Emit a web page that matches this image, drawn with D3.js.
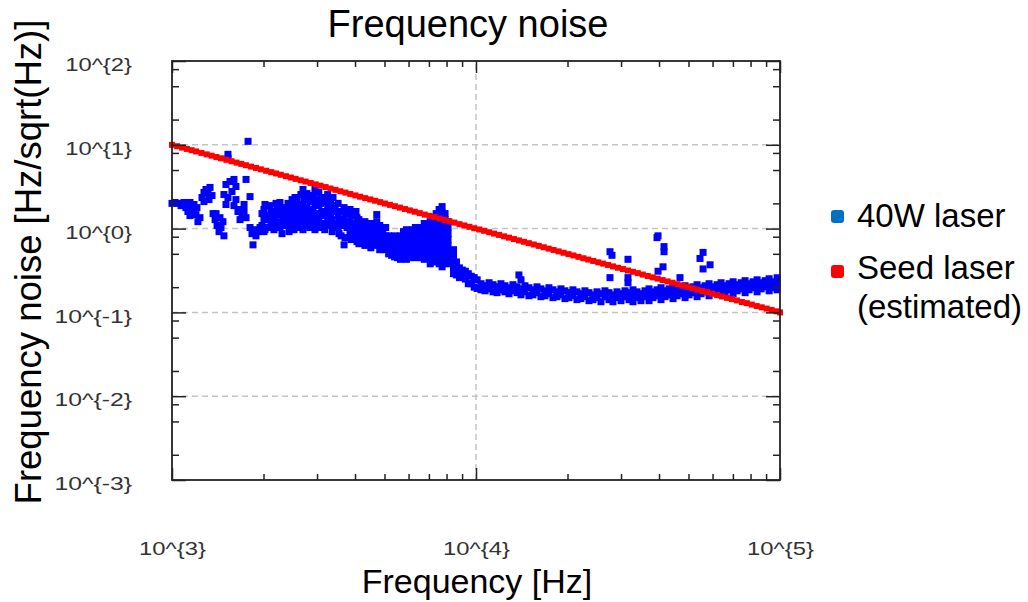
<!DOCTYPE html>
<html>
  <head>
    <meta charset="utf-8">
    <title>Frequency noise</title>
    <style>
    body { margin: 0; background: #fff; }
    text { font-family: "Liberation Sans", Arial, Helvetica, sans-serif; fill: #000; }
    .tick text { font-family: "Liberation Sans Narrow", "Liberation Sans", Arial, sans-serif; fill: #333; }
    .tick line { stroke: #222; stroke-width: 1.5px; }
    .grid line { stroke: #c4c4c4; stroke-width: 1.5px; stroke-dasharray: 6,4; }
    </style>
  </head>
  <body>
    <script src="https://d3js.org/d3.v7.min.js"></script>
    <script>

    // axis ticks
    var xMajor = [1e3, 1e4, 1e5];
    var xMinor = [2e3, 3e3, 4e3, 5e3, 6e3, 7e3, 8e3, 9e3, 2e4, 3e4, 4e4, 5e4, 6e4, 7e4, 8e4, 9e4];
    var yMajor = [1e-3, 1e-2, 1e-1, 1e0, 1e1, 1e2];
    var yMinor = [2e-3, 5e-3, 8e-3, 2e-2, 5e-2, 8e-2, 0.2, 0.5, 0.8, 2, 5, 8, 20, 50, 80];
    var xTickLabels = ["10^{3}", "10^{4}", "10^{5}"];
    var yTickLabels = ["10^{-3}", "10^{-2}", "10^{-1}", "10^{0}", "10^{1}", "10^{2}"];

    var seriesNames = ["40W laser", "Seed laser", "(estimated)"];

    // seed laser (estimated) : [frequency Hz, noise Hz/sqrt(Hz)]
    var seedLaser = [
      [1000,10],[1040,9.62],[1080,9.26],[1120,8.93],[1160,8.62],[1200,8.33],[1250,8.0],[1300,7.69],
      [1350,7.41],[1400,7.14],[1450,6.90],[1510,6.62],[1570,6.37],[1630,6.13],[1690,5.92],[1750,5.71],
      [1820,5.49],[1890,5.29],[1960,5.10],[2040,4.90],[2120,4.72],[2200,4.55],[2280,4.39],[2370,4.22],
      [2460,4.07],[2550,3.92],[2650,3.77],[2750,3.64],[2860,3.50],[2970,3.37],[3080,3.25],[3200,3.13],
      [3320,3.01],[3450,2.90],[3580,2.79],[3720,2.69],[3860,2.59],[4010,2.49],[4160,2.40],[4320,2.31],
      [4490,2.23],[4660,2.15],[4840,2.07],[5020,1.99],[5210,1.92],[5410,1.85],[5620,1.78],[5840,1.71],
      [6060,1.65],[6290,1.59],[6530,1.53],[6780,1.47],[7040,1.42],[7310,1.37],[7590,1.32],[7880,1.27],
      [8180,1.22],[8490,1.18],[8820,1.13],[9160,1.09],[9510,1.05],[9870,1.01],[10250,0.976],[10640,0.940],
      [11050,0.905],[11470,0.872],[11910,0.840],[12370,0.808],[12840,0.779],[13330,0.750],[13840,0.723],
      [14370,0.696],[14920,0.670],[15490,0.646],[16080,0.622],[16700,0.599],[17340,0.577],[18000,0.556],
      [18690,0.535],[19410,0.515],[20150,0.496],[20920,0.478],[21720,0.460],[22550,0.443],[23410,0.427],
      [24310,0.411],[25240,0.396],[26200,0.382],[27200,0.368],[28240,0.354],[29320,0.341],[30440,0.329],
      [31610,0.316],[32820,0.305],[34070,0.294],[35370,0.283],[36730,0.272],[38130,0.262],[39590,0.253],
      [41100,0.243],[42670,0.234],[44300,0.226],[46000,0.217],[47760,0.209],[49580,0.202],[51480,0.194],
      [53450,0.187],[55490,0.180],[57610,0.174],[59820,0.167],[62100,0.161],[64480,0.155],[66940,0.149],
      [69500,0.144],[72160,0.139],[74920,0.133],[77780,0.129],[80760,0.124],[83840,0.119],[87050,0.115],
      [90380,0.111],[93830,0.107],[97420,0.103],[100000,0.100]
    ];

    // 40W laser (measured) : [frequency Hz, noise Hz/sqrt(Hz)]
    var laser40W = [
      [1000,2.0],[1023,2.05],[1046,2.0],[1071,1.88],[1095,2.05],[1111,1.78],[1128,1.6],[1146,1.43],[1146,2.05],
      [1163,1.69],[1181,1.94],[1199,1.47],[1208,1.78],[1217,1.21],[1236,1.35],
      [1255,2.35],[1274,2.7],[1274,2.1],[1294,2.93],[1313,2.66],[1323,2.22],[1334,3.1],[1354,2.48],[1365,1.51],
      [1386,1.28],[1396,1.51],[1407,1.09],[1428,0.92],[1438,1.35],[1449,1.03],[1471,1.21],[1482,0.82],
      [1482,2.55],[1505,3.36],[1505,1.94],[1528,2.35],[1528,7.7],[1528,6.9],[1552,3.65],[1575,2.77],[1599,3.86],
      [1599,1.88],[1623,3.18],[1623,2.22],[1648,1.6],
      [1674,1.69],[1674,1.28],[1700,1.43],[1726,1.6],[1726,1.94],[1752,1.35],[1752,3.86],[1779,11.0],[1806,2.41],
      [1806,1.03],[1833,0.87],[1847,0.64],[1861,0.97],[1889,0.82],[1918,0.92],[1948,1.03],
      [1977,1.51],[1977,1.09],[2022,1.94],[2022,1.28],[2022,0.97],[2069,1.43],[2069,1.03],[2117,1.6],[2117,1.15],
      [2165,1.35],[2165,0.97],[2216,1.69],[2216,1.21],[2266,2.05],[2266,1.47],[2266,1.03],[2319,1.78],[2319,1.28],
      [2372,1.51],[2372,1.09],[2427,1.69],[2427,1.21],[2427,0.92],[2483,2.22],[2483,1.43],[2483,1.03],
      [2007,1.69],[2007,1.28],[2007,0.92],[2101,1.88],[2101,1.35],[2101,1.03],[2199,2.0],[2199,1.51],[2199,1.09],
      [2301,1.6],[2301,1.15],[2301,0.87],[2408,2.0],[2408,1.43],[2408,1.09],[2520,1.94],[2520,1.43],[2520,0.97],
      [2539,2.35],[2539,1.69],[2539,1.21],[2597,1.94],[2597,1.35],[2597,1.03],[2655,2.55],[2655,1.6],[2655,1.15],
      [2716,2.22],[2716,1.51],[2716,1.09],[2778,2.62],[2778,1.78],[2778,1.28],[2841,2.1],[2841,1.43],[2841,1.03],
      [2906,2.48],[2906,1.69],[2906,1.21],[2972,2.22],[2972,1.51],[2972,1.09],[3040,2.7],[3040,1.88],[3040,1.28],
      [3109,2.35],[3109,1.6],[3109,1.15],[3180,2.1],[3180,1.43],[3180,0.97],[3252,2.55],[3252,1.78],[3252,1.21],
      [3326,2.0],[3326,1.35],
      [2577,2.1],[2577,1.51],[2577,1.15],[2697,2.93],[2697,1.88],[2697,1.35],[2697,0.97],[2822,2.35],[2822,1.69],[2822,1.15],
      [2953,2.93],[2953,2.0],[2953,1.35],[2953,0.97],[3091,2.0],[3091,1.43],[3091,1.03],[3235,2.22],[3235,1.6],[3235,1.09],
      [3386,2.35],[3386,1.6],[3386,1.09],
      [3364,1.88],[3364,1.28],[3364,0.92],[3441,1.69],[3441,1.15],[3519,2.0],[3519,1.43],[3519,1.03],
      [3599,1.6],[3599,1.09],[3599,0.82],[3681,1.78],[3681,1.28],[3681,0.64],[3765,1.51],[3765,1.03],
      [3851,1.69],[3851,1.21],[3851,0.87],[3939,1.43],[3939,0.97],[4029,1.6],[4029,1.15],[4029,0.82],
      [3543,1.6],[3543,1.21],[3543,0.87],[3708,1.51],[3708,1.09],[3708,0.78],[3880,1.43],[3880,1.03],[3880,0.74],
      [4060,1.35],[4060,0.97],[4060,0.70],
      [4120,1.28],[4120,1.03],[4120,0.82],[4120,0.66],[4214,1.15],[4214,0.92],[4214,0.74],
      [4310,1.21],[4310,0.97],[4310,0.78],[4310,0.63],[4408,1.09],[4408,0.87],[4408,0.70],
      [4508,1.15],[4508,0.92],[4508,0.74],[4508,0.59],[4611,1.03],[4611,0.82],[4611,0.66],
      [4716,1.47],[4716,1.21],[4716,0.97],[4716,0.78],[4716,0.63],[4823,1.09],[4823,0.87],[4823,0.70],[4823,0.56],
      [4933,0.97],[4933,0.78],[4933,0.63],[5045,1.03],[5045,0.82],[5045,0.66],[5045,0.56],
      [5160,0.82],[5160,0.70],[5160,0.59],[5160,0.50],[5277,0.78],[5277,0.66],[5277,0.56],[5277,0.48],
      [5397,0.82],[5397,0.68],[5397,0.56],[5397,0.46],[5520,0.74],[5520,0.63],[5520,0.53],[5520,0.45],
      [5645,0.82],[5645,0.70],[5645,0.59],[5645,0.50],[5645,0.43],[5774,0.92],[5774,0.78],[5774,0.66],[5774,0.56],[5774,0.48],
      [5905,0.97],[5905,0.82],[5905,0.70],[5905,0.59],[5905,0.50],[5905,0.43],[6040,0.87],[6040,0.74],[6040,0.63],[6040,0.53],[6040,0.45],
      [6177,0.97],[6177,0.82],[6177,0.70],[6177,0.59],[6177,0.50],[6318,1.03],[6318,0.87],[6318,0.74],[6318,0.63],[6318,0.53],[6318,0.45],
      [6461,0.92],[6461,0.78],[6461,0.66],[6461,0.56],[6461,0.48],[6608,1.03],[6608,0.87],[6608,0.74],[6608,0.63],[6608,0.53],[6608,0.45],
      [6759,1.15],[6759,0.97],[6759,0.82],[6759,0.70],[6759,0.59],[6759,0.50],[6759,0.43],
      [6913,1.03],[6913,0.87],[6913,0.74],[6913,0.63],[6913,0.53],[6913,0.45],
      [7070,1.21],[7070,1.03],[7070,0.87],[7070,0.74],[7070,0.63],[7070,0.53],[7070,0.45],[7070,0.38],
      [7232,1.35],[7232,1.15],[7232,0.97],[7232,0.82],[7232,0.70],[7232,0.59],[7232,0.50],[7232,0.43],
      [7396,1.51],[7396,1.28],[7396,1.09],[7396,0.92],[7396,0.78],[7396,0.66],[7396,0.56],[7396,0.48],[7396,0.40],
      [7564,1.69],[7564,1.43],[7564,1.21],[7564,1.03],[7564,0.87],[7564,0.74],[7564,0.63],[7564,0.53],[7564,0.45],[7564,0.38],
      [7736,1.83],[7736,1.55],[7736,1.32],[7736,1.12],[7736,0.95],[7736,0.80],[7736,0.68],[7736,0.58],[7736,0.49],[7736,0.41],[7736,0.35],
      [7912,1.51],[7912,1.28],[7912,1.09],[7912,0.92],[7912,0.78],[7912,0.66],[7912,0.56],[7912,0.48],[7912,0.40],
      [8092,1.21],[8092,1.03],[8092,0.87],[8092,0.74],[8092,0.63],[8092,0.53],[8092,0.45],[8092,0.38],
      [8433,0.56],[8433,0.48],[8433,0.40],[8433,0.34],[8433,0.29],[8623,0.40],[8623,0.34],[8623,0.28],
      [8819,0.34],[8819,0.29],[8819,0.26],[9019,0.32],[9019,0.27],[9224,0.31],[9224,0.25],[9433,0.29],[9433,0.22],
      [9647,0.27],[9647,0.22],[9866,0.26],[9866,0.20],[10090,0.245],[10090,0.193],
      [10390,0.220],[10390,0.186],[10710,0.208],[10710,0.181],[11040,0.226],[11040,0.191],[11380,0.214],[11380,0.176],
      [11730,0.202],[11730,0.172],[12080,0.220],[12080,0.186],[12450,0.208],[12450,0.176],[12840,0.197],[12840,0.167],
      [13230,0.214],[13230,0.181],[13640,0.202],[13640,0.172],[13840,0.28],[14060,0.245],[14060,0.191],[14060,0.162],
      [14490,0.208],[14490,0.176],[14930,0.197],[14930,0.158],[15390,0.186],[15390,0.162],[15870,0.202],[15870,0.172],
      [16350,0.191],[16350,0.154],[16860,0.181],[16860,0.158],[17370,0.197],[17370,0.167],[17910,0.186],[17910,0.150],
      [18460,0.176],[18460,0.154],[19030,0.191],[19030,0.162],[19610,0.181],[19610,0.146],[20220,0.172],[20220,0.150],
      [20840,0.186],[20840,0.158],[21480,0.176],[21480,0.142],[22140,0.167],[22140,0.146],[22820,0.181],[22820,0.154],
      [23530,0.172],[23530,0.138],[24250,0.162],[24250,0.142],[25000,0.176],[25000,0.150],[25770,0.167],[25770,0.134],
      [26560,0.181],[26560,0.154],[27380,0.172],[27380,0.142],[28220,0.162],[28220,0.134],[29090,0.176],[29090,0.150],
      [29990,0.167],[29990,0.138],[30910,0.181],[30910,0.154],[31860,0.172],[31860,0.142],
      [32840,0.186],[32840,0.158],[32840,0.134],[33850,0.176],[33850,0.150],[34890,0.167],[34890,0.138],
      [35970,0.181],[35970,0.154],[37080,0.191],[37080,0.162],[37080,0.138],[38220,0.176],[38220,0.150],
      [39400,0.186],[39400,0.158],[40610,0.197],[40610,0.167],[40610,0.142],[41860,0.181],[41860,0.154],
      [43150,0.191],[43150,0.162],[44480,0.202],[44480,0.172],[44480,0.146],[45850,0.186],[45850,0.158],
      [47260,0.197],[47260,0.167],[48720,0.208],[48720,0.176],[48720,0.150],[50220,0.191],[50220,0.162],
      [51760,0.202],[51760,0.172],[53360,0.214],[53360,0.181],[53360,0.154],[55000,0.197],[55000,0.167],
      [56690,0.208],[56690,0.176],[58440,0.220],[58440,0.186],[58440,0.158],[60240,0.202],[60240,0.172],
      [62090,0.214],[62090,0.181],[64000,0.226],[64000,0.191],[64000,0.162],[65970,0.208],[65970,0.176],
      [68000,0.220],[68000,0.186],[70100,0.232],[70100,0.197],[70100,0.167],[72260,0.214],[72260,0.181],
      [74480,0.226],[74480,0.191],[76770,0.239],[76770,0.202],[76770,0.172],[79130,0.220],[79130,0.186],
      [81570,0.232],[81570,0.197],[84080,0.245],[84080,0.208],[84080,0.176],[86670,0.226],[86670,0.191],
      [89340,0.239],[89340,0.202],[92090,0.252],[92090,0.214],[92090,0.181],[94930,0.232],[94930,0.197],
      [97850,0.259],[97850,0.220],[97850,0.186],
      [27590,0.53],[28010,0.48],[31620,0.43],[27590,0.26],[31620,0.26],[31620,0.226],[39400,0.78],[39700,0.82],
      [41540,0.61],[41540,0.53],[41230,0.35],[39700,0.31],[55840,0.52],[54550,0.44],[58880,0.37],[55840,0.33],
      [46880,0.26]
    ];

    var width = 1028,
        height = 602;

    var svg = d3.select("body").append("svg")
        .attr("width", width)
        .attr("height", height);

    var x = d3.scaleLog().domain([1e3, 1e5]).range([172, 780]);
    var y = d3.scaleLog().domain([1e-3, 1e2]).range([480, 61]);

    // dashed grid at the inner decades
    var grid = svg.append("g").attr("class", "grid");
    grid.selectAll(".gx")
        .data(xMajor.slice(1, -1))
        .enter().append("line")
          .attr("class", "gx")
          .attr("x1", function(d) { return x(d); })
          .attr("x2", function(d) { return x(d); })
          .attr("y1", y(1e-3))
          .attr("y2", y(1e2));
    grid.selectAll(".gy")
        .data(yMajor.slice(1, -1))
        .enter().append("line")
          .attr("class", "gy")
          .attr("x1", x(1e3))
          .attr("x2", x(1e5))
          .attr("y1", function(d) { return y(d); })
          .attr("y2", function(d) { return y(d); });

    // data
    var blue = svg.append("g").attr("class", "laser40");
    blue.selectAll("rect")
        .data(laser40W)
        .enter().append("rect")
          .attr("x", function(d) { return x(d[0]) - 3.5; })
          .attr("y", function(d) { return y(d[1]) - 3.5; })
          .attr("width", 7)
          .attr("height", 7)
          .attr("fill", "#0000ff");

    var red = svg.append("g").attr("class", "seed");
    red.selectAll("rect")
        .data(seedLaser)
        .enter().append("rect")
          .attr("x", function(d) { return x(d[0]) - 3; })
          .attr("y", function(d) { return y(d[1]) - 3; })
          .attr("width", 6)
          .attr("height", 6)
          .attr("fill", "#ff0000");

    // axes, ticks pointing inward
    function labelWidth(s) { return s.length * 10.8 + 2; }

    var bottom = svg.append("g")
        .attr("transform", "translate(0," + y(1e-3) + ")")
        .call(d3.axisBottom(x).tickValues(xMajor).tickSizeInner(-12).tickSizeOuter(0)
          .tickFormat(function(d, i) { return xTickLabels[i]; }));
    bottom.selectAll("text")
        .attr("y", 75).attr("dy", 0)
        .style("font-size", "18px")
        .attr("textLength", function(d, i) { return labelWidth(xTickLabels[i]); })
        .attr("lengthAdjust", "spacingAndGlyphs");
    svg.append("g")
        .attr("transform", "translate(0," + y(1e-3) + ")")
        .call(d3.axisBottom(x).tickValues(xMinor).tickSizeInner(-6).tickSizeOuter(0).tickFormat(""));

    svg.append("g")
        .attr("transform", "translate(0," + y(1e2) + ")")
        .call(d3.axisTop(x).tickValues(xMajor).tickSizeInner(-12).tickSizeOuter(0).tickFormat(""));
    svg.append("g")
        .attr("transform", "translate(0," + y(1e2) + ")")
        .call(d3.axisTop(x).tickValues(xMinor).tickSizeInner(-6).tickSizeOuter(0).tickFormat(""));

    var left = svg.append("g")
        .attr("transform", "translate(" + x(1e3) + ",0)")
        .call(d3.axisLeft(y).tickValues(yMajor).tickSizeInner(-14).tickSizeOuter(0).tickPadding(40)
          .tickFormat(function(d, i) { return yTickLabels[i]; }));
    left.selectAll("text")
        .attr("y", 4)
        .style("font-size", "18px")
        .attr("textLength", function(d, i) { return labelWidth(yTickLabels[i]); })
        .attr("lengthAdjust", "spacingAndGlyphs");
    svg.append("g")
        .attr("transform", "translate(" + x(1e3) + ",0)")
        .call(d3.axisLeft(y).tickValues(yMinor).tickSizeInner(-7).tickSizeOuter(0).tickFormat(""));

    svg.append("g")
        .attr("transform", "translate(" + x(1e5) + ",0)")
        .call(d3.axisRight(y).tickValues(yMajor).tickSizeInner(-14).tickSizeOuter(0).tickFormat(""));
    svg.append("g")
        .attr("transform", "translate(" + x(1e5) + ",0)")
        .call(d3.axisRight(y).tickValues(yMinor).tickSizeInner(-7).tickSizeOuter(0).tickFormat(""));

    svg.selectAll(".domain").remove();

    // frame
    svg.append("rect")
        .attr("x", x(1e3))
        .attr("y", y(1e2))
        .attr("width", x(1e5) - x(1e3))
        .attr("height", y(1e-3) - y(1e2))
        .attr("fill", "none")
        .attr("stroke", "#222")
        .attr("stroke-width", 1.8);

    // titles
    svg.append("text")
        .attr("x", 468).attr("y", 37)
        .attr("text-anchor", "middle")
        .style("font-size", "38px")
        .text("Frequency noise");

    svg.append("text")
        .attr("x", 477).attr("y", 593)
        .attr("text-anchor", "middle")
        .style("font-size", "34px")
        .text("Frequency [Hz]");

    svg.append("text")
        .attr("transform", "translate(41,262) rotate(-90)")
        .attr("text-anchor", "middle")
        .style("font-size", "36.5px")
        .text("Frequency noise [Hz/sqrt(Hz)]");

    // legend
    var legend = svg.append("g").attr("class", "legend");
    legend.append("rect")
        .attr("x", 831).attr("y", 210).attr("width", 13).attr("height", 13).attr("rx", 3)
        .attr("fill", "#0070c0");
    legend.append("text")
        .attr("x", 857).attr("y", 227)
        .style("font-size", "33px")
        .text(seriesNames[0]);
    legend.append("rect")
        .attr("x", 831).attr("y", 265).attr("width", 13).attr("height", 13).attr("rx", 3)
        .attr("fill", "#ff0000");
    legend.append("text")
        .attr("x", 857).attr("y", 279)
        .style("font-size", "33px")
        .text(seriesNames[1]);
    legend.append("text")
        .attr("x", 857).attr("y", 318)
        .style("font-size", "33px")
        .text(seriesNames[2]);

    </script>
  </body>
</html>
